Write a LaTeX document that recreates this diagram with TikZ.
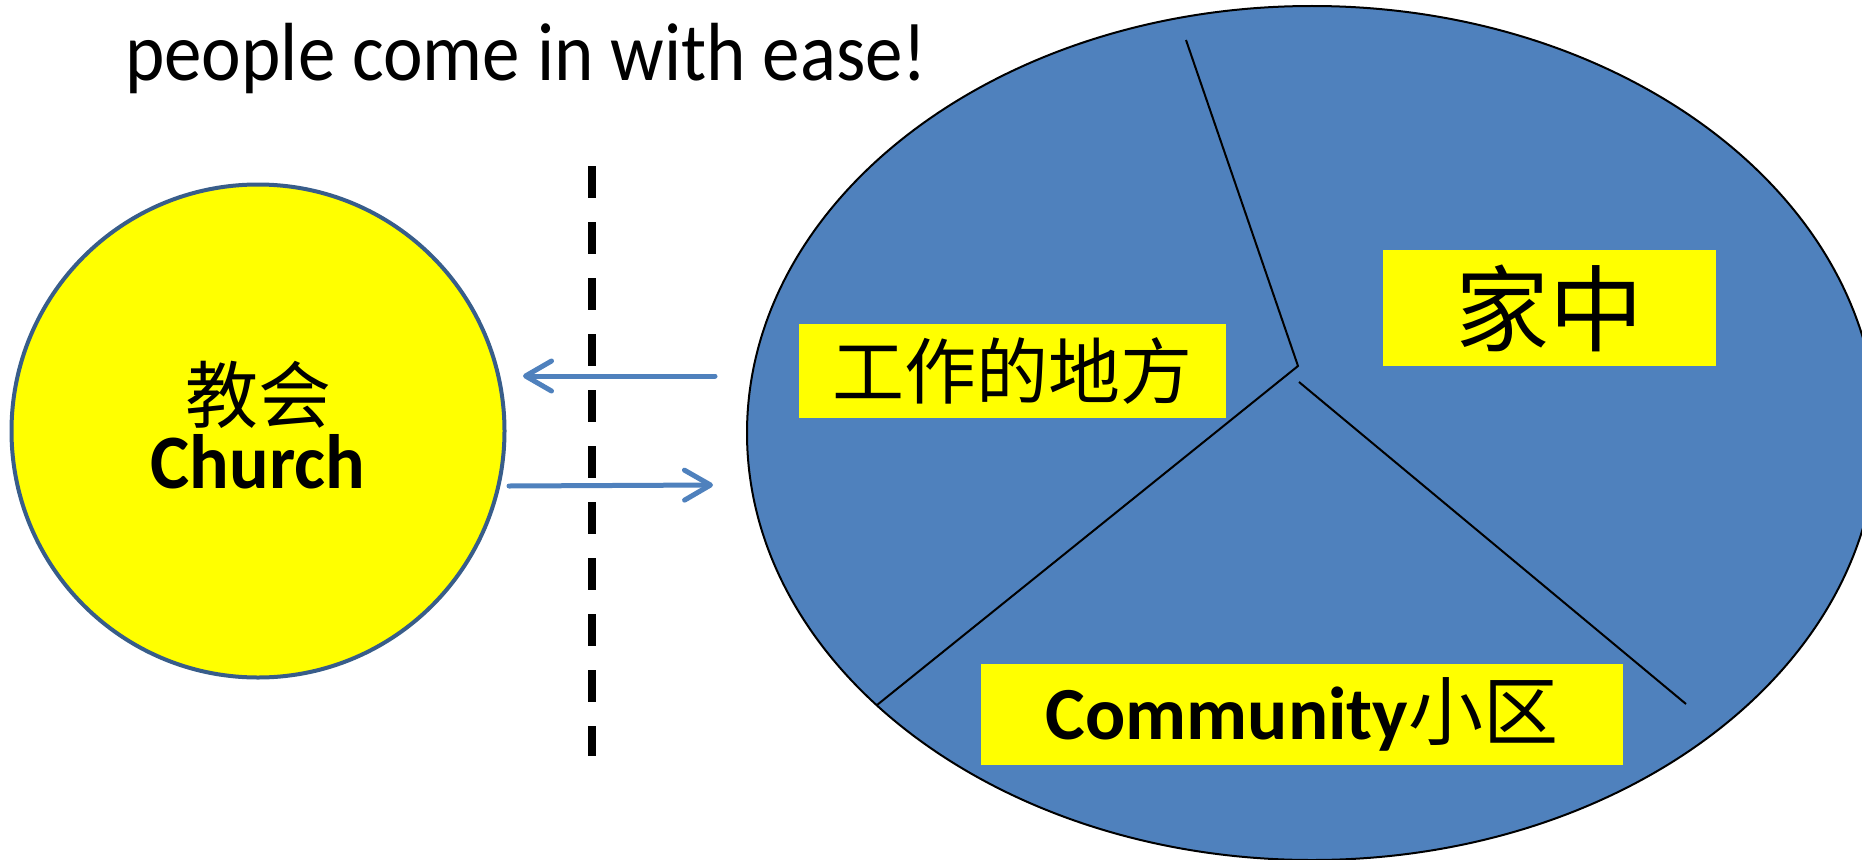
\documentclass[tikz,border=0pt]{standalone}
\usepackage{fontspec}
\setmainfont{Carlito}
\newfontfamily\cjk{Noto Sans CJK SC}
\usetikzlibrary{arrows.meta}
\definecolor{officeblue}{RGB}{79,129,189}
\definecolor{circborder}{RGB}{56,93,138}
\definecolor{hlyellow}{RGB}{255,255,0}
\tikzset{
  ybox/.style={fill=hlyellow, inner sep=0pt, anchor=center},
  flowarrow/.style={draw=officeblue, line width=5pt, line cap=round,
    -{Straight Barb[length=26pt,width=30pt,round]}},
  divider/.style={draw=black, line width=2pt},
}
\begin{document}
\begin{tikzpicture}[x=1pt,y=-1pt]
\useasboundingbox (0,0) rectangle (1862,859);
\clip (0,0) rectangle (1862,859);
% big ellipse
\draw[fill=officeblue, draw=black, line width=2pt] (1312,433) ellipse [x radius=565, y radius=427];
% dividers
\coordinate (ctr) at (1298,366);
\coordinate (topend) at (1186,40);
\coordinate (leftend) at (877,705);
\coordinate (ctr2) at (1299,382);
\coordinate (rightend) at (1686,704);
\draw[divider] (topend) -- (ctr) -- (leftend);
\draw[divider] (ctr2) -- (rightend);
% labels
\node[ybox, minimum width=427, minimum height=94] (work) at (1012.5,370.5)
  {\fontsize{72}{72}\selectfont\cjk 工作的地方};
\node[ybox, minimum width=333, minimum height=116] (home) at (1549.5,308)
  {\fontsize{94}{94}\selectfont\cjk 家中};
\node[ybox, minimum width=642, minimum height=101, text height=49pt, text depth=0pt] (comm) at (1302,714.5)
  {\fontsize{75}{75}\selectfont\bfseries Community{\mdseries\cjk 小区}};
% church circle
\node[circle, draw=circborder, line width=4pt, fill=hlyellow, minimum size=493, inner sep=0pt] (church) at (258,431) {};
\node[anchor=center] (jiaohui) at (258,395) {\fontsize{73}{73}\selectfont\cjk 教会};
\node[anchor=base, inner sep=0pt] (churchtxt) at (258,488) {\scalebox{0.96}[1]{\fontsize{77}{77}\selectfont\bfseries Church}};
% title
\node[anchor=base west, inner sep=0pt] (title) at (125,80) {\scalebox{1}[1.1]{\fontsize{75}{75}\selectfont people come in with ease!}};
% dashed separator
\coordinate (dtop) at (592,166);
\coordinate (dbot) at (592,756);
\draw[line width=8pt, dash pattern=on 32pt off 24pt] (dtop) -- (dbot);
% arrows
\coordinate (a1s) at (715,376);
\coordinate (a1e) at (523,376);
\coordinate (a2s) at (509,486);
\coordinate (a2e) at (713,485);
\draw[flowarrow] (a1s) -- (a1e);
\draw[flowarrow] (a2s) -- (a2e);
\end{tikzpicture}
\end{document}
